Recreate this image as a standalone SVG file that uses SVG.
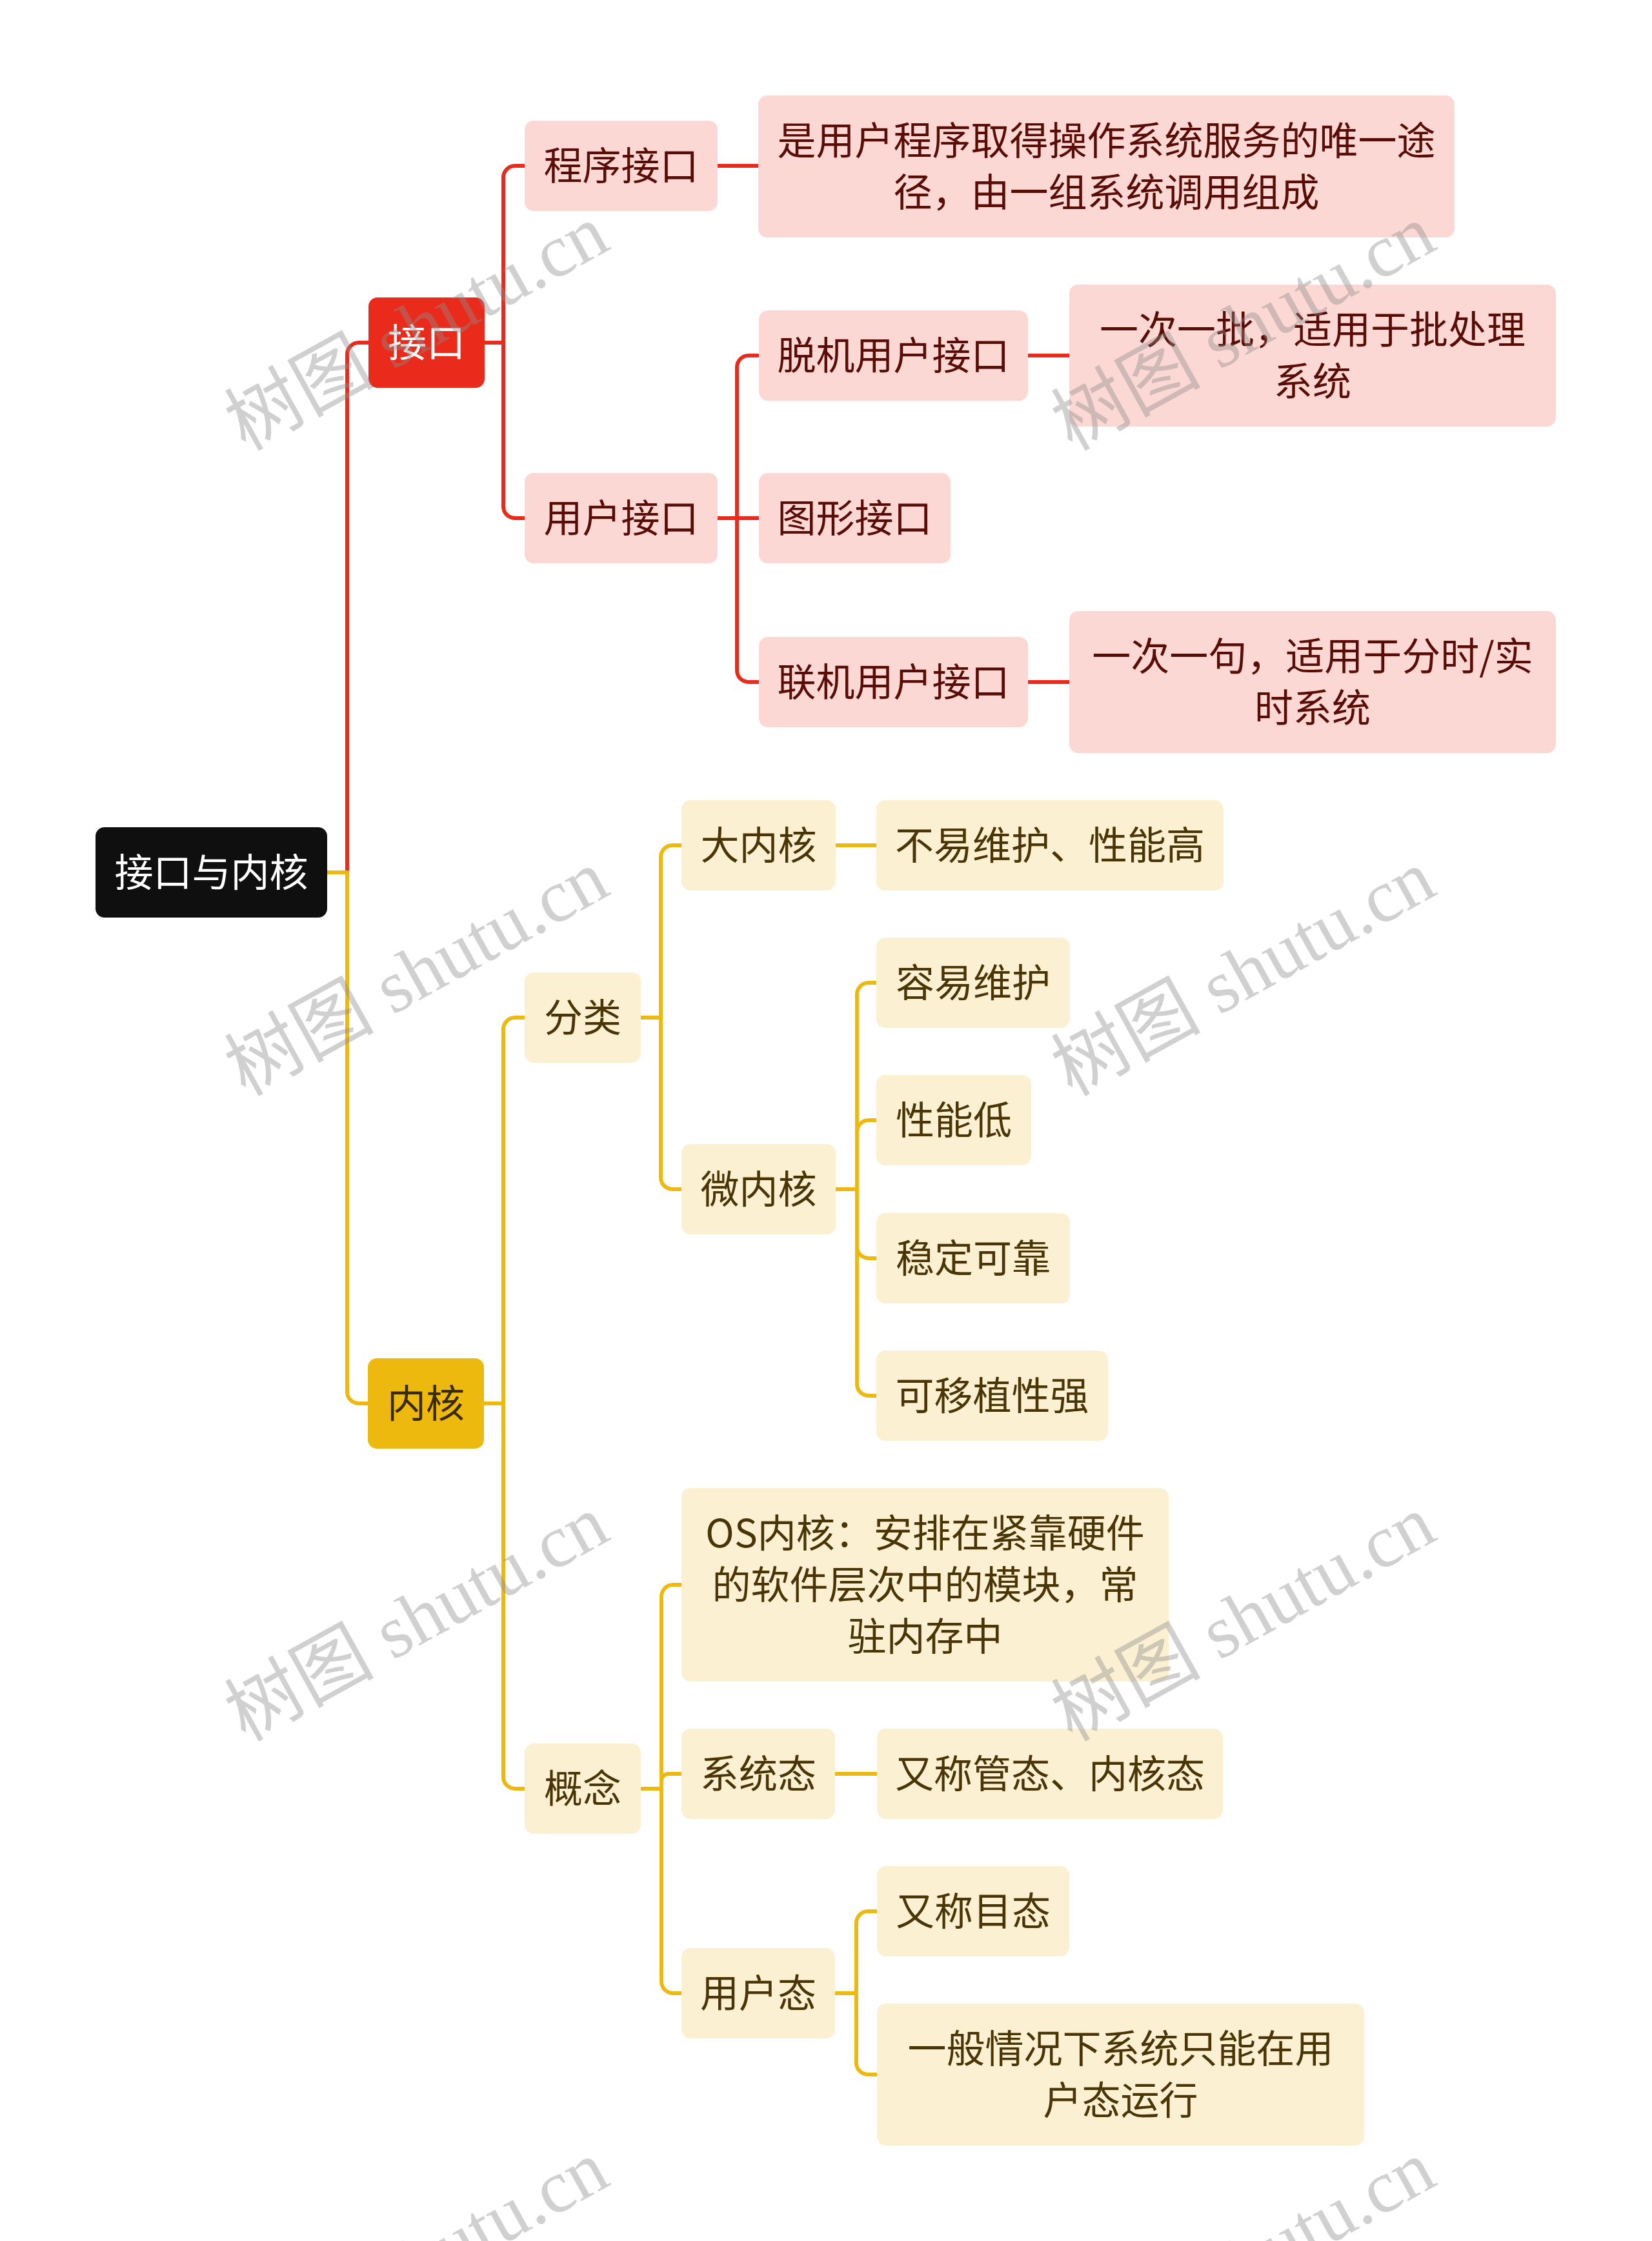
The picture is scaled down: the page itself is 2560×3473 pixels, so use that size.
<svg xmlns="http://www.w3.org/2000/svg" width="2560" height="3473" viewBox="0 0 2560 3473">
<style>
.t{font-family:"Noto Sans CJK SC","Noto Sans",sans-serif;font-size:60px;text-anchor:middle}
.tw{fill:#ffffff}
.tr{fill:#5a0c06}
.ty{fill:#4a3506}
.tk{fill:#3a2a02}
.pk{fill:#fcd8d4}
.ly{fill:#fcf0d2}
.cr{fill:none;stroke:#ea2b1b;stroke-width:6}
.cy{fill:none;stroke:#eeb90f;stroke-width:6}
.wm{font-family:"Liberation Serif","Noto Sans CJK SC",serif;font-size:116px;fill:#8c8c8c;opacity:0.4}
</style>
<rect width="2560" height="3473" fill="#ffffff"/>
<g id="connectors">
<path class="cr" d="M507 1352 H538 V549 A18 18 0 0 1 556 531 H571"/>
<path class="cy" d="M507 1352 H538 V2157 A18 18 0 0 0 556 2175 H570"/>
<path class="cr" d="M751 531 H780 V275 A18 18 0 0 1 798 257 H813"/>
<path class="cr" d="M751 531 H780 V785 A18 18 0 0 0 798 803 H813"/>
<path class="cr" d="M1112 257 H1175"/>
<path class="cr" d="M1112 803 H1142 V569 A18 18 0 0 1 1160 551 H1176"/>
<path class="cr" d="M1112 803 H1176"/>
<path class="cr" d="M1112 803 H1142 V1039 A18 18 0 0 0 1160 1057 H1176"/>
<path class="cr" d="M1593 551 H1657"/>
<path class="cr" d="M1593 1057 H1657"/>
<path class="cy" d="M750 2175 H780 V1595 A18 18 0 0 1 798 1577 H813"/>
<path class="cy" d="M750 2175 H780 V2754 A18 18 0 0 0 798 2772 H813"/>
<path class="cy" d="M993 1577 H1024 V1328 A18 18 0 0 1 1042 1310 H1056"/>
<path class="cy" d="M993 1577 H1024 V1825 A18 18 0 0 0 1042 1843 H1056"/>
<path class="cy" d="M1295 1310 H1358"/>
<path class="cy" d="M1295 1843 H1328 V1541 A18 18 0 0 1 1346 1523 H1358"/>
<path class="cy" d="M1295 1843 H1328 V1754 A18 18 0 0 1 1346 1736 H1358"/>
<path class="cy" d="M1295 1843 H1328 V1932 A18 18 0 0 0 1346 1950 H1358"/>
<path class="cy" d="M1295 1843 H1328 V2145 A18 18 0 0 0 1346 2163 H1358"/>
<path class="cy" d="M993 2772 H1025 V2474 A18 18 0 0 1 1043 2456 H1056"/>
<path class="cy" d="M993 2772 H1025 V2760 A11 11 0 0 1 1036 2749 H1056"/>
<path class="cy" d="M993 2772 H1025 V3071 A18 18 0 0 0 1043 3089 H1056"/>
<path class="cy" d="M1294 2749 H1359"/>
<path class="cy" d="M1294 3089 H1327 V2980 A18 18 0 0 1 1345 2962 H1359"/>
<path class="cy" d="M1294 3089 H1327 V3197 A18 18 0 0 0 1345 3215 H1359"/>
</g>
<g id="n-root"><rect x="148" y="1282" width="359" height="140" rx="14" fill="#0f0f0f"/><text class="t tw" x="327.5" y="1374">接口与内核</text></g>
<g id="n-jiekou"><rect x="571" y="461" width="180" height="140" rx="14" fill="#ea2b1b"/><text class="t tw" x="661" y="553">接口</text></g>
<g id="n-neihe"><rect x="570" y="2105" width="180" height="140" rx="14" fill="#eeb90f"/><text class="t tk" x="660" y="2197">内核</text></g>
<g id="n-chengxu"><rect class="pk" x="813" y="187" width="299" height="140" rx="14"/><text class="t tr" x="962.5" y="279">程序接口</text></g>
<g id="n-yonghu"><rect class="pk" x="813" y="733" width="299" height="140" rx="14"/><text class="t tr" x="962.5" y="825">用户接口</text></g>
<g id="n-shiyonghu"><rect class="pk" x="1175" y="148" width="1079" height="220" rx="14"/><text class="t tr" x="1714.5" y="240">是用户程序取得操作系统服务的唯一途</text><text class="t tr" x="1714.5" y="320">径，由一组系统调用组成</text></g>
<g id="n-tuoji"><rect class="pk" x="1176" y="481" width="417" height="140" rx="14"/><text class="t tr" x="1384.5" y="573">脱机用户接口</text></g>
<g id="n-tuxing"><rect class="pk" x="1176" y="733" width="297" height="140" rx="14"/><text class="t tr" x="1324.5" y="825">图形接口</text></g>
<g id="n-lianji"><rect class="pk" x="1176" y="987" width="417" height="140" rx="14"/><text class="t tr" x="1384.5" y="1079">联机用户接口</text></g>
<g id="n-yipi"><rect class="pk" x="1657" y="441" width="754" height="220" rx="14"/><text class="t tr" x="2034" y="533">一次一批，适用于批处理</text><text class="t tr" x="2034" y="613">系统</text></g>
<g id="n-yiju"><rect class="pk" x="1657" y="947" width="754" height="220" rx="14"/><text class="t tr" x="2034" y="1039">一次一句，适用于分时/实</text><text class="t tr" x="2034" y="1119">时系统</text></g>
<g id="n-fenlei"><rect class="ly" x="813" y="1507" width="180" height="140" rx="14"/><text class="t ty" x="903" y="1599">分类</text></g>
<g id="n-gainian"><rect class="ly" x="813" y="2702" width="180" height="140" rx="14"/><text class="t ty" x="903" y="2794">概念</text></g>
<g id="n-danei"><rect class="ly" x="1056" y="1240" width="239" height="140" rx="14"/><text class="t ty" x="1175.5" y="1332">大内核</text></g>
<g id="n-buyi"><rect class="ly" x="1358" y="1240" width="538" height="140" rx="14"/><text class="t ty" x="1627" y="1332">不易维护、性能高</text></g>
<g id="n-weinei"><rect class="ly" x="1056" y="1773" width="239" height="140" rx="14"/><text class="t ty" x="1175.5" y="1865">微内核</text></g>
<g id="n-rongyi"><rect class="ly" x="1358" y="1453" width="300" height="140" rx="14"/><text class="t ty" x="1508" y="1545">容易维护</text></g>
<g id="n-xingnengdi"><rect class="ly" x="1358" y="1666" width="240" height="140" rx="14"/><text class="t ty" x="1478" y="1758">性能低</text></g>
<g id="n-wending"><rect class="ly" x="1358" y="1880" width="300" height="140" rx="14"/><text class="t ty" x="1508" y="1972">稳定可靠</text></g>
<g id="n-keyizhi"><rect class="ly" x="1358" y="2093" width="359" height="140" rx="14"/><text class="t ty" x="1537.5" y="2185">可移植性强</text></g>
<g id="n-os"><rect class="ly" x="1056" y="2306" width="755" height="300" rx="14"/><text class="t ty" x="1433.5" y="2398">OS内核：安排在紧靠硬件</text><text class="t ty" x="1433.5" y="2478">的软件层次中的模块，常</text><text class="t ty" x="1433.5" y="2558">驻内存中</text></g>
<g id="n-xitongtai"><rect class="ly" x="1056" y="2679" width="238" height="140" rx="14"/><text class="t ty" x="1175" y="2771">系统态</text></g>
<g id="n-guantai"><rect class="ly" x="1359" y="2679" width="536" height="140" rx="14"/><text class="t ty" x="1627" y="2771">又称管态、内核态</text></g>
<g id="n-yonghutai"><rect class="ly" x="1056" y="3019" width="238" height="140" rx="14"/><text class="t ty" x="1175" y="3111">用户态</text></g>
<g id="n-mutai"><rect class="ly" x="1359" y="2892" width="298" height="140" rx="14"/><text class="t ty" x="1508" y="2984">又称目态</text></g>
<g id="n-yiban"><rect class="ly" x="1359" y="3105" width="755" height="220" rx="14"/><text class="t ty" x="1736.5" y="3197">一般情况下系统只能在用</text><text class="t ty" x="1736.5" y="3277">户态运行</text></g>
<g id="watermarks">
<text class="wm" transform="translate(380 700) rotate(-29)">树图 shutu.cn</text>
<text class="wm" transform="translate(1661 700) rotate(-29)">树图 shutu.cn</text>
<text class="wm" transform="translate(380 1700) rotate(-29)">树图 shutu.cn</text>
<text class="wm" transform="translate(1661 1700) rotate(-29)">树图 shutu.cn</text>
<text class="wm" transform="translate(380 2700) rotate(-29)">树图 shutu.cn</text>
<text class="wm" transform="translate(1661 2700) rotate(-29)">树图 shutu.cn</text>
<text class="wm" transform="translate(380 3700) rotate(-29)">树图 shutu.cn</text>
<text class="wm" transform="translate(1661 3700) rotate(-29)">树图 shutu.cn</text>
</g>
</svg>
